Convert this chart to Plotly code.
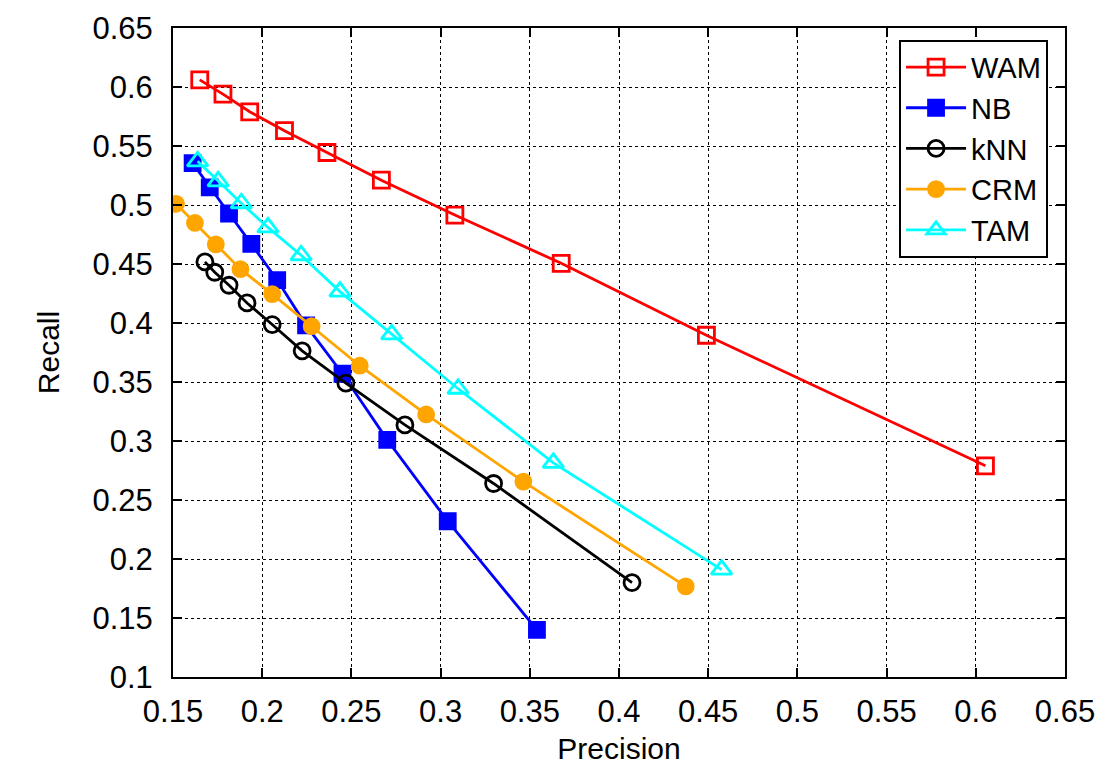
import plotly.graph_objects as go

wam_p = [0.165, 0.178, 0.193, 0.2125, 0.2363, 0.2668, 0.308, 0.3676, 0.449, 0.6054]
wam_r = [0.606, 0.594, 0.579, 0.563, 0.5445, 0.521, 0.4915, 0.4506, 0.3896, 0.279]

nb_p = [0.161, 0.1706, 0.1814, 0.1939, 0.2084, 0.2246, 0.245, 0.2701, 0.304, 0.354]
nb_r = [0.5355, 0.515, 0.4928, 0.467, 0.4364, 0.398, 0.357, 0.301, 0.232, 0.14]

knn_p = [0.1679, 0.1734, 0.1814, 0.1915, 0.2056, 0.2224, 0.2469, 0.28, 0.3297, 0.4073]
knn_r = [0.4518, 0.443, 0.432, 0.417, 0.3987, 0.3764, 0.349, 0.3136, 0.264, 0.180]

crm_p = [0.1517, 0.1623, 0.174, 0.1878, 0.2056, 0.2277, 0.2547, 0.2919, 0.3464, 0.4374]
crm_r = [0.501, 0.4848, 0.4666, 0.4456, 0.4245, 0.3973, 0.3638, 0.3225, 0.2656, 0.1768]

tam_p = [0.1638, 0.1753, 0.1883, 0.2032, 0.2218, 0.2436, 0.2726, 0.3098, 0.3632, 0.4575]
tam_r = [0.537, 0.520, 0.5015, 0.481, 0.4574, 0.4266, 0.3904, 0.3443, 0.2815, 0.191]

tick_vals = [0.1, 0.15, 0.2, 0.25, 0.3, 0.35, 0.4, 0.45, 0.5, 0.55, 0.6, 0.65]
tick_text = ["0.1", "0.15", "0.2", "0.25", "0.3", "0.35", "0.4", "0.45", "0.5", "0.55", "0.6", "0.65"]

series = [
    ("WAM", wam_p, wam_r, "#ff0000", "square-open", 16),
    ("NB", nb_p, nb_r, "#0000ff", "square", 15),
    ("kNN", knn_p, knn_r, "#000000", "circle-open", 16),
    ("CRM", crm_p, crm_r, "#ffa500", "circle", 15),
    ("TAM", tam_p, tam_r, "#00ffff", "triangle-up-open", 18),
]

fig = go.Figure()
for name, xs, ys, col, sym, sz in series:
    fig.add_trace(go.Scatter(
        x=xs, y=ys, name=name, mode="lines+markers",
        line=dict(color=col, width=2.8),
        marker=dict(symbol=sym, size=sz, color=col, line=dict(color=col, width=2.8)),
    ))

FAM = "Liberation Sans, Arial, sans-serif"
tfont = dict(family=FAM, size=31, color="black")
lfont = dict(family=FAM, size=30, color="black")
axis_common = dict(
    tickvals=tick_vals, ticktext=tick_text,
    showgrid=True, gridcolor="black", griddash="dot", gridwidth=1,
    showline=True, linecolor="black", linewidth=2, mirror="allticks",
    ticks="inside", ticklen=9, tickwidth=1.5, tickcolor="black",
    zeroline=False, tickfont=tfont, ticklabeloverflow="allow",
    automargin=False,
)
fig.update_xaxes(range=[0.15, 0.65], ticklabelstandoff=6,
                 title=dict(text="Precision", font=lfont, standoff=10), **axis_common)
fig.update_yaxes(range=[0.1, 0.65], ticklabelstandoff=12,
                 title=dict(text="Recall", font=lfont, standoff=24), **axis_common)

fig.update_layout(
    width=1102, height=766,
    margin=dict(l=165, r=45, t=20, b=97, autoexpand=False),
    paper_bgcolor="white", plot_bgcolor="white",
    font=tfont,
    legend=dict(
        x=0.981, y=0.982, xanchor="right", yanchor="top",
        bgcolor="white", bordercolor="black", borderwidth=2,
        font=dict(family=FAM, size=29, color="black"),
        tracegroupgap=0, itemwidth=60,
    ),
    showlegend=True,
)

fig.write_html("out.html")
